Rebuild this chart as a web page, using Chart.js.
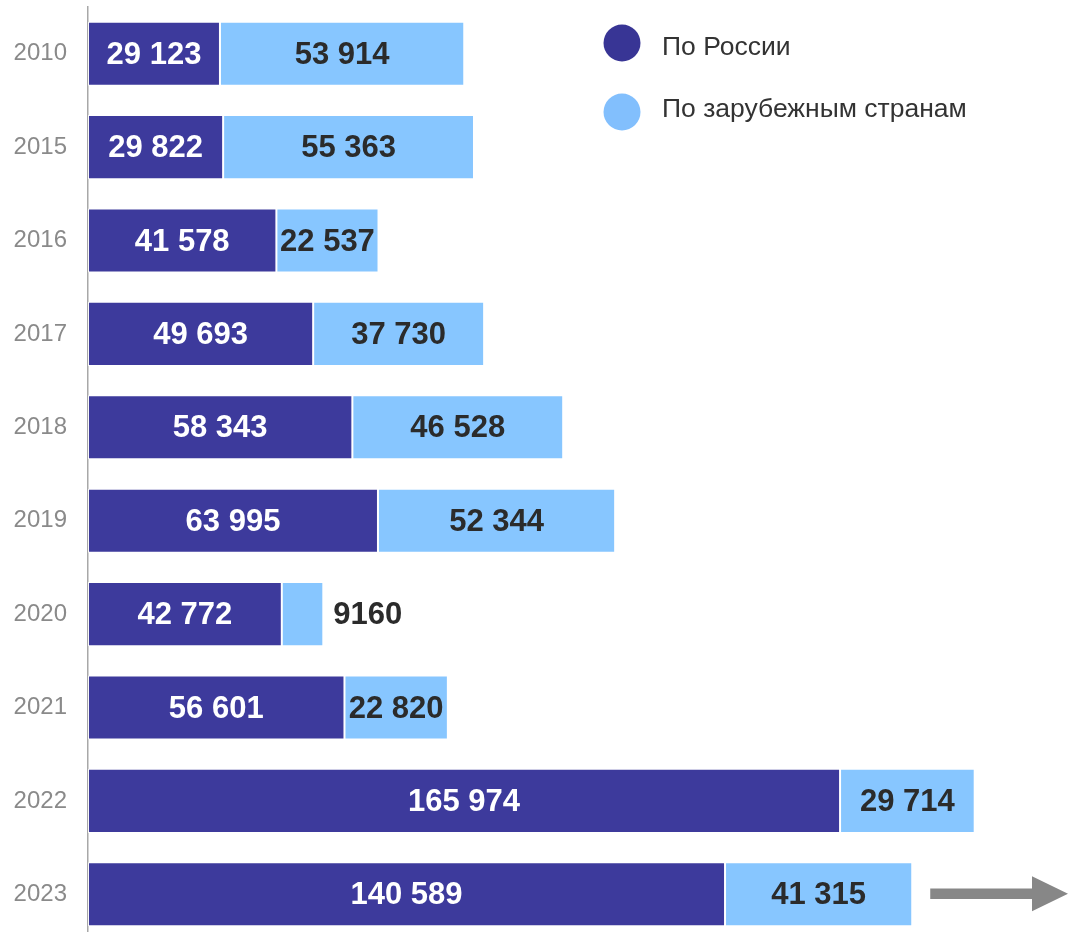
<!DOCTYPE html>
<html>
<head>
<meta charset="utf-8">
<script src="https://cdn.jsdelivr.net/npm/chart.js@4/dist/chart.umd.min.js"></script>
<style>
  html, body { margin: 0; padding: 0; background: #fff; overflow: hidden; }
  #wrap { width: 1069px; height: 941px; position: relative; }
</style>
</head>
<body>
<div id="wrap"><canvas id="c" width="1069" height="941"></canvas></div>
<script>
const years = ['2010', '2015', '2016', '2017', '2018', '2019', '2020', '2021', '2022', '2023'];
const russia = [29123, 29822, 41578, 49693, 58343, 63995, 42772, 56601, 165974, 140589];
const abroad = [53914, 55363, 22537, 37730, 46528, 52344, 9160, 22820, 29714, 41315];
const seriesNames = ['По России', 'По зарубежным странам'];
const barColors = ['#3d3a9c', '#87c6ff'];
const legendColors = ['#383595', '#82bffd'];
const FONT = '"Liberation Sans", Arial, sans-serif';

function fmt(v) {
  const s = String(v);
  if (s.length <= 4) return s;
  return s.replace(/\B(?=(\d{3})+(?!\d))/g, ' ');
}

const labelPlugin = {
  id: 'barLabels',
  afterDatasetsDraw(chart) {
    const ctx = chart.ctx;
    ctx.save();
    ctx.font = 'bold 31px ' + FONT;
    ctx.textBaseline = 'middle';
    chart.data.datasets.forEach((ds, di) => {
      const meta = chart.getDatasetMeta(di);
      meta.data.forEach((bar, i) => {
        const v = ds.data[i];
        const txt = fmt(v);
        const w = ctx.measureText(txt).width;
        const left = Math.min(bar.x, bar.base);
        const right = Math.max(bar.x, bar.base);
        const bw = right - left;
        const y = bar.y + 1.5;
        if (w <= bw) {
          ctx.fillStyle = di === 0 ? '#ffffff' : '#2b2b2b';
          ctx.textAlign = 'center';
          ctx.fillText(txt, (left + right) / 2, y);
        } else {
          ctx.fillStyle = '#2b2b2b';
          ctx.textAlign = 'left';
          ctx.fillText(txt, right + 10, y);
        }
      });
    });
    ctx.restore();
  }
};

const legendPlugin = {
  id: 'customLegend',
  afterDraw(chart) {
    const ctx = chart.ctx;
    ctx.save();
    const cx = 622, rows = [43, 112], baselines = [55, 117];
    ctx.font = '26.5px ' + FONT;
    ctx.textBaseline = 'alphabetic';
    ctx.textAlign = 'left';
    seriesNames.forEach((name, i) => {
      ctx.beginPath();
      ctx.arc(cx, rows[i], 18.5, 0, Math.PI * 2);
      ctx.fillStyle = legendColors[i];
      ctx.fill();
      ctx.fillStyle = '#333333';
      ctx.fillText(name, 662, baselines[i]);
    });
    ctx.restore();
  }
};

const arrowPlugin = {
  id: 'arrow',
  afterDraw(chart) {
    const ctx = chart.ctx;
    const last = years.length - 1;
    const xs = chart.scales.x;
    const ys = chart.scales.y;
    const endX = xs.getPixelForValue(russia[last] + abroad[last]);
    const y = ys.getPixelForValue(last) - 0.5;
    const x0 = endX + 18;
    const tip = chart.chartArea.right - 1;
    const headLen = 36;
    ctx.save();
    ctx.fillStyle = '#878787';
    ctx.beginPath();
    ctx.moveTo(x0, y - 5.3);
    ctx.lineTo(tip - headLen, y - 5.3);
    ctx.lineTo(tip - headLen, y - 17.5);
    ctx.lineTo(tip, y);
    ctx.lineTo(tip - headLen, y + 17.5);
    ctx.lineTo(tip - headLen, y + 5.3);
    ctx.lineTo(x0, y + 5.3);
    ctx.closePath();
    ctx.fill();
    ctx.restore();
  }
};

function build() {
  new Chart(document.getElementById('c'), {
    type: 'bar',
    data: {
      labels: years,
      datasets: [
        { label: seriesNames[0], data: russia, backgroundColor: barColors[0], borderColor: 'rgba(255,255,255,0.85)', borderWidth: 1, borderSkipped: false },
        { label: seriesNames[1], data: abroad, backgroundColor: barColors[1], borderColor: 'rgba(255,255,255,0.85)', borderWidth: 1, borderSkipped: false }
      ]
    },
    options: {
      indexAxis: 'y',
      responsive: false,
      animation: false,
      events: [],
      layout: { padding: { top: 7, bottom: 0, left: 0, right: 0 } },
      datasets: { bar: { categoryPercentage: 1, barPercentage: 0.686 } },
      plugins: { legend: { display: false }, tooltip: { enabled: false } },
      scales: {
        x: { stacked: true, min: 0, max: 216500, display: false },
        y: {
          stacked: true,
          grid: { display: false, drawTicks: false },
          border: { display: true, color: '#a8a8a8', width: 1.5 },
          ticks: {
            color: '#8a8a8a',
            padding: 21,
            font: { family: FONT, size: 24 }
          },
          afterFit(scale) {
            scale.width = 88;
            scale.paddingTop = 0;
            scale.paddingBottom = 0;
          }
        }
      }
    },
    plugins: [labelPlugin, legendPlugin, arrowPlugin]
  });
}

Promise.all([
  document.fonts.load('bold 31px "Liberation Sans"'),
  document.fonts.load('24px "Liberation Sans"')
]).then(build, build);
</script>
</body>
</html>
